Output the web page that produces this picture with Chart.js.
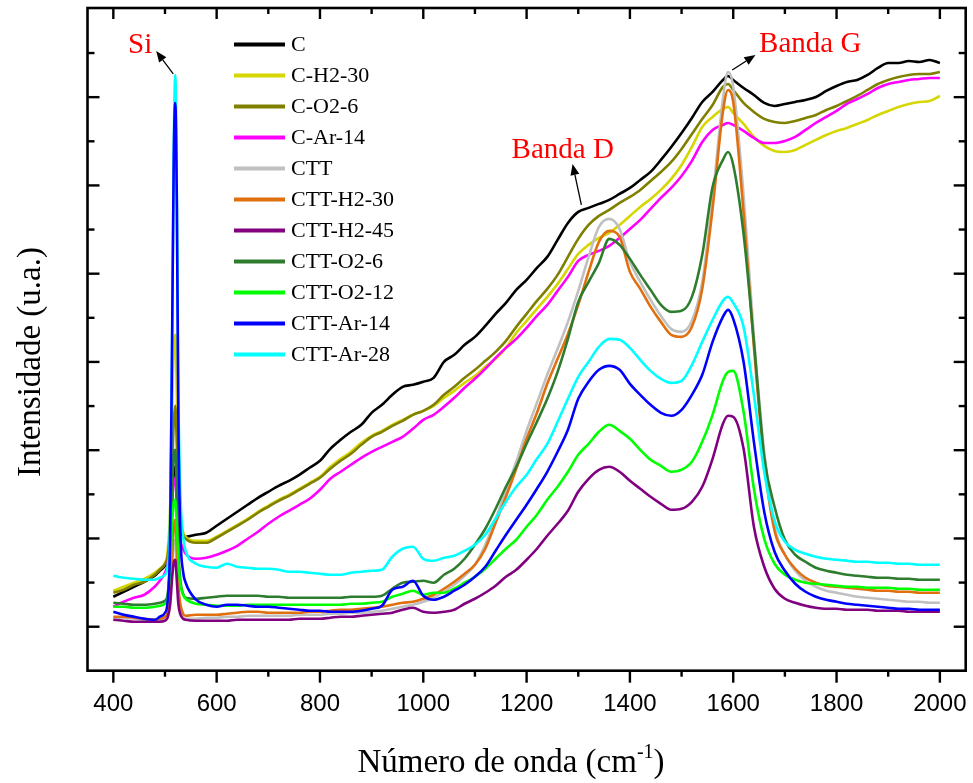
<!DOCTYPE html>
<html>
<head>
<meta charset="utf-8">
<title>Espectros Raman</title>
<script src="https://cdn.jsdelivr.net/npm/chart.js@4.4.1/dist/chart.umd.min.js"></script>
<style>
  html, body { margin: 0; padding: 0; background: #ffffff; }
  canvas { display: block; }
</style>
</head>
<body>
<canvas id="raman" width="973" height="783"></canvas>
<script>
// Wavenumber grid (cm-1); denser around the Si line at 520 cm-1
const wavenumbers = [
  400, 420, 440, 460, 480, 490, 500, 505, 510, 514, 517, 520, 523, 526, 530, 535,
  540, 560, 580, 600, 620, 640, 660, 680, 700, 720,
  740, 760, 780, 800, 820, 840, 860, 880, 900, 920,
  940, 960, 980, 1000, 1020, 1040, 1060, 1080, 1100, 1120,
  1140, 1160, 1180, 1200, 1220, 1240, 1260, 1280, 1300, 1320,
  1340, 1360, 1380, 1400, 1420, 1440, 1460, 1480, 1500, 1520,
  1540, 1560, 1580, 1590, 1600, 1620, 1640, 1660, 1680, 1700,
  1720, 1740, 1760, 1780, 1800, 1820, 1840, 1860, 1880, 1900,
  1920, 1940, 1960, 1980, 2000
];

// Intensities (arbitrary units), one array per sample
const sC = [
  30, 35, 40, 45, 51, 56, 61, 68, 90, 130, 158, 160, 128, 105, 94, 91,
  90, 92, 94, 101, 108, 115, 122, 129, 135, 141,
  146, 152, 159, 166, 178, 187, 195, 202, 214, 222,
  232, 240, 242, 245, 249, 265, 272, 282, 290, 301,
  313, 324, 337, 347, 359, 370, 387, 404, 415, 419,
  423, 427, 433, 439, 447, 455, 467, 480, 494, 509,
  525, 535, 547, 551, 547, 539, 532, 524, 521, 523,
  525, 527, 530, 536, 541, 545, 547, 552, 559, 564,
  564, 566, 565, 567, 564
];
const sCH2_30 = [
  36, 40, 44, 48, 54, 58, 64, 75, 120, 220, 280, 292, 230, 150, 110, 95,
  90, 86, 86, 90, 96, 102, 108, 115, 121, 127,
  132, 138, 144, 150, 160, 168, 175, 184, 191, 196,
  202, 207, 212, 216, 221, 229, 236, 244, 251, 260,
  268, 279, 294, 306, 318, 330, 343, 358, 373, 382,
  389, 394, 402, 411, 420, 428, 437, 448, 462, 480,
  500, 510, 518, 520, 514, 503, 490, 481, 476, 475,
  477, 482, 487, 492, 496, 499, 503, 507, 512, 516,
  520, 523, 525, 526, 531
];
const sCO2_6 = [
  34, 37, 42, 45, 52, 57, 63, 70, 100, 160, 205, 221, 180, 130, 105, 92,
  88, 84, 84, 89, 95, 101, 107, 114, 120, 126,
  131, 137, 143, 149, 158, 166, 173, 182, 190, 195,
  201, 206, 212, 216, 222, 232, 240, 249, 257, 266,
  275, 286, 300, 313, 326, 338, 352, 370, 388, 402,
  411, 417, 424, 430, 437, 446, 455, 465, 478, 493,
  508, 522, 540, 543, 537, 524, 515, 508, 505, 504,
  506, 509, 512, 517, 521, 526, 531, 537, 543, 547,
  550, 552, 553, 553, 555
];
const sCAr_14 = [
  20, 25, 29, 32, 40, 46, 54, 62, 85, 125, 145, 148, 125, 100, 85, 78,
  73, 68, 69, 72, 76, 81, 88, 95, 103, 110,
  116, 122, 128, 137, 148, 155, 162, 169, 175, 180,
  185, 190, 198, 207, 212, 220, 229, 239, 248, 258,
  269, 279, 288, 299, 311, 322, 336, 350, 366, 372,
  376, 381, 389, 398, 407, 418, 429, 439, 451, 466,
  485, 497, 502, 504, 502, 496, 489, 484, 484, 486,
  490, 497, 504, 510, 516, 523, 528, 533, 539, 543,
  545, 547, 548, 549, 549
];
const sCTT = [
  9, 9, 8, 7, 6, 7, 9, 13, 30, 60, 82, 87, 60, 35, 18, 10,
  8, 8, 9, 9, 10, 10, 11, 11, 11, 11,
  11, 12, 12, 12, 13, 13, 14, 14, 15, 16,
  18, 20, 22, 25, 29, 35, 42, 51, 62, 82,
  108, 136, 165, 196, 224, 252, 278, 305, 336, 370,
  400, 408, 398, 365, 345, 327, 311, 298, 295, 306,
  345, 428, 528, 555, 540, 432, 290, 175, 100, 72,
  56, 46, 40, 36, 34, 32, 30, 29, 28, 27,
  26, 25, 25, 24, 24
];
const sCTTH2_30 = [
  10, 10, 9, 8, 7, 8, 10, 14, 30, 70, 100, 107, 75, 40, 22, 13,
  11, 12, 12, 12, 13, 14, 15, 15, 14, 14,
  14, 14, 15, 15, 16, 17, 17, 18, 19, 20,
  22, 24, 25, 28, 32, 38, 45, 53, 62, 78,
  104, 130, 158, 188, 214, 243, 268, 293, 322, 355,
  385, 396, 390, 355, 338, 320, 305, 292, 290, 300,
  338, 418, 515, 537, 525, 414, 280, 164, 96, 72,
  58, 49, 44, 41, 40, 39, 38, 37, 36, 36,
  35, 35, 34, 34, 34
];
const sCTTH2_45 = [
  7, 6, 5, 5, 5, 5, 6, 9, 22, 50, 64, 67, 45, 22, 12, 8,
  7, 6, 6, 6, 6, 7, 7, 7, 7, 7,
  7, 8, 8, 8, 9, 10, 10, 11, 12, 13,
  14, 17, 19, 15, 14, 15, 17, 23, 28, 34,
  41, 50, 57, 67, 78, 91, 103, 116, 135, 148,
  157, 160, 155, 146, 138, 130, 123, 117, 118, 125,
  140, 168, 203, 211, 210, 178, 100, 60, 38, 28,
  24, 21, 19, 18, 18, 17, 17, 17, 16, 16,
  16, 15, 15, 15, 15
];
const sCTTO2_6 = [
  24, 23, 22, 22, 23, 24, 26, 32, 70, 140, 172, 177, 130, 75, 45, 33,
  29, 28, 29, 30, 31, 31, 31, 31, 30, 30,
  29, 29, 29, 29, 29, 29, 30, 30, 30, 31,
  38, 44, 45, 46, 44, 52, 58, 68, 82, 98,
  118, 140, 160, 183, 205, 228, 255, 288, 325, 345,
  364, 388, 382, 368, 352, 337, 322, 315, 316, 330,
  372, 440, 467, 475, 462, 393, 285, 170, 120, 87,
  72, 65, 59, 56, 54, 52, 51, 50, 49, 49,
  48, 48, 47, 47, 47
];
const sCTTO2_12 = [
  20, 20, 19, 19, 20, 21, 23, 28, 60, 105, 124, 127, 100, 65, 42, 32,
  28, 23, 22, 21, 21, 21, 22, 22, 22, 22,
  22, 22, 22, 22, 22, 22, 23, 23, 24, 25,
  30, 33, 36, 32, 34, 34, 38, 44, 50, 58,
  68, 78, 87, 100, 112, 127, 140, 155, 172, 183,
  195, 202, 196, 188, 177, 167, 161, 155, 157, 165,
  185, 212, 246, 255, 256, 215, 138, 88, 63, 52,
  47, 44, 43, 42, 41, 40, 40, 39, 39, 39,
  38, 38, 37, 37, 37
];
const sCTTAr_14 = [
  15, 12, 10, 8, 7, 10, 14, 25, 90, 300, 470, 524, 420, 200, 90, 55,
  44, 27, 22, 20, 22, 22, 21, 20, 20, 19,
  18, 17, 16, 16, 15, 15, 15, 16, 18, 21,
  37, 40, 46, 31, 27, 30, 36, 42, 50, 60,
  76, 92, 107, 122, 138, 155, 175, 197, 228, 245,
  257, 261, 257, 243, 232, 222, 214, 211, 217, 232,
  252, 285, 310, 317, 308, 265, 185, 115, 75, 56,
  43, 35, 30, 27, 25, 23, 22, 21, 20, 19,
  18, 18, 17, 17, 17
];
const sCTTAr_28 = [
  51, 49, 48, 47, 47, 49, 52, 60, 110, 300, 480, 552, 430, 230, 130, 90,
  76, 63, 60, 59, 63, 60, 59, 58, 58, 57,
  55, 55, 54, 53, 52, 52, 54, 55, 56, 57,
  70, 78, 80, 68, 66, 69, 71, 76, 82, 92,
  108, 125, 140, 152, 168, 183, 205, 228, 250, 265,
  280, 288, 287, 279, 267, 256, 248, 244, 246, 262,
  285, 307, 326, 330, 324, 300, 232, 155, 106, 85,
  77, 73, 70, 68, 67, 66, 65, 65, 64, 64,
  63, 63, 62, 62, 62
];

const seriesNames = ['C', 'C-H2-30', 'C-O2-6', 'C-Ar-14', 'CTT', 'CTT-H2-30',
                     'CTT-H2-45', 'CTT-O2-6', 'CTT-O2-12', 'CTT-Ar-14', 'CTT-Ar-28'];
const seriesValues = [sC, sCH2_30, sCO2_6, sCAr_14, sCTT, sCTTH2_30,
                      sCTTH2_45, sCTTO2_6, sCTTO2_12, sCTTAr_14, sCTTAr_28];
const seriesColors = ['#000000', '#d6d600', '#808000', '#ff00ff', '#c0c0c0', '#e0700f',
                      '#800080', '#2e7d2e', '#00ff00', '#0000ff', '#00ffff'];

// Axis ticks
const xMajorTicks = [400, 600, 800, 1000, 1200, 1400, 1600, 1800, 2000];
const xMinorTicks = [500, 700, 900, 1100, 1300, 1500, 1700, 1900];
const yTickStep = 44.15;   // intensity units between neighbouring left/right ticks
const yTickCount = 13;

// Band labels with their arrows, in data coordinates
const bandNotes = [
  { text: 'Si',      x: 452,  y: 574, ax0: 516,  ay0: 553, ax1: 483,  ay1: 576 },
  { text: 'Banda D', x: 1270, y: 469, ax0: 1306, ay0: 422, ax1: 1289, ay1: 463 },
  { text: 'Banda G', x: 1749, y: 575, ax0: 1598, ay0: 557, ax1: 1643, ay1: 572 }
];

const serif = "'Liberation Serif', 'Times New Roman', serif";
const sans = "'Liberation Sans', Arial, sans-serif";

const datasets = seriesNames.map((name, i) => ({
  label: name,
  data: wavenumbers.map((w, j) => ({ x: w, y: seriesValues[i][j] })),
  borderColor: seriesColors[i],
  backgroundColor: seriesColors[i],
  borderWidth: 2.6,
  pointRadius: 0,
  fill: false,
  cubicInterpolationMode: 'monotone',
  order: i === 9 ? 0 : seriesNames.length - i
}));

function seg(ctx, x0, y0, x1, y1) {
  ctx.beginPath();
  ctx.moveTo(x0, y0);
  ctx.lineTo(x1, y1);
  ctx.stroke();
}

function arrow(ctx, x0, y0, x1, y1) {
  const ang = Math.atan2(y1 - y0, x1 - x0);
  const head = 11, half = 4.5;
  const bx = x1 - head * Math.cos(ang), by = y1 - head * Math.sin(ang);
  ctx.lineWidth = 1.3;
  seg(ctx, x0, y0, bx, by);
  ctx.beginPath();
  ctx.moveTo(x1, y1);
  ctx.lineTo(bx + half * Math.sin(ang), by - half * Math.cos(ang));
  ctx.lineTo(bx - half * Math.sin(ang), by + half * Math.cos(ang));
  ctx.closePath();
  ctx.fill();
}

const decorations = {
  id: 'decorations',
  beforeDraw(chart) {
    const ctx = chart.ctx;
    ctx.save();
    ctx.fillStyle = '#ffffff';
    ctx.fillRect(0, 0, chart.width, chart.height);
    ctx.restore();
  },
  afterDatasetsDraw(chart) {
    const { ctx, chartArea: a } = chart;
    const xs = chart.scales.x, ys = chart.scales.y;
    ctx.save();
    ctx.strokeStyle = '#000';
    ctx.fillStyle = '#000';
    ctx.lineCap = 'butt';

    // frame
    ctx.lineWidth = 2.6;
    ctx.strokeRect(a.left, a.top, a.right - a.left, a.bottom - a.top);

    // x ticks: outward at the bottom, inward at the top
    ctx.lineWidth = 2.4;
    xMajorTicks.forEach(v => {
      const px = xs.getPixelForValue(v);
      seg(ctx, px, a.bottom, px, a.bottom + 12);
      seg(ctx, px, a.top, px, a.top + 11);
    });
    xMinorTicks.forEach(v => {
      const px = xs.getPixelForValue(v);
      seg(ctx, px, a.bottom, px, a.bottom + 6);
      seg(ctx, px, a.top, px, a.top + 6);
    });

    // y ticks: inward on both sides, no labels
    for (let k = 0; k <= yTickCount; k++) {
      const py = ys.getPixelForValue(k * yTickStep);
      const len = k % 2 === 0 ? 12 : 7;
      seg(ctx, a.left, py, a.left + len, py);
      seg(ctx, a.right, py, a.right - len, py);
    }

    // x tick labels
    ctx.font = '24px ' + sans;
    ctx.textAlign = 'center';
    ctx.textBaseline = 'alphabetic';
    xMajorTicks.forEach(v => ctx.fillText(String(v), xs.getPixelForValue(v), a.bottom + 40));

    // x axis title with superscript
    const mainTxt = 'Número de onda (cm';
    ctx.font = '33px ' + serif;
    const wMain = ctx.measureText(mainTxt).width;
    ctx.font = '20px ' + serif;
    const wSup = ctx.measureText('-1').width;
    ctx.font = '33px ' + serif;
    const wClose = ctx.measureText(')').width;
    let tx = 511 - (wMain + wSup + wClose) / 2;
    ctx.textAlign = 'left';
    ctx.fillText(mainTxt, tx, 772);
    tx += wMain;
    ctx.font = '20px ' + serif;
    ctx.fillText('-1', tx, 758);
    tx += wSup;
    ctx.font = '33px ' + serif;
    ctx.fillText(')', tx, 772);

    // y axis title
    ctx.save();
    ctx.translate(40, 362);
    ctx.rotate(-Math.PI / 2);
    ctx.textAlign = 'center';
    ctx.fillText('Intensidade (u.a.)', 0, 0);
    ctx.restore();

    // legend
    ctx.font = '22px ' + serif;
    ctx.textAlign = 'left';
    ctx.textBaseline = 'middle';
    seriesNames.forEach((name, i) => {
      const yy = 44.5 + i * 31;
      ctx.strokeStyle = seriesColors[i];
      ctx.lineWidth = 4;
      seg(ctx, 234, yy, 285, yy);
      ctx.fillStyle = '#000';
      ctx.fillText(name, 291, yy + 1);
    });

    // band labels and arrows
    bandNotes.forEach(n => {
      ctx.fillStyle = '#ff0000';
      ctx.font = '29px ' + serif;
      ctx.textAlign = 'center';
      ctx.textBaseline = 'alphabetic';
      ctx.fillText(n.text, xs.getPixelForValue(n.x), ys.getPixelForValue(n.y));
      ctx.fillStyle = '#000';
      ctx.strokeStyle = '#000';
      arrow(ctx, xs.getPixelForValue(n.ax0), ys.getPixelForValue(n.ay0),
                 xs.getPixelForValue(n.ax1), ys.getPixelForValue(n.ay1));
    });

    ctx.restore();
  }
};

new Chart(document.getElementById('raman'), {
  type: 'line',
  data: { datasets },
  options: {
    responsive: false,
    animation: false,
    devicePixelRatio: 1,
    layout: { padding: { left: 87.5, right: 7.3, top: 8, bottom: 112.3 } },
    plugins: { legend: { display: false }, tooltip: { enabled: false } },
    scales: {
      x: { type: 'linear', min: 350, max: 2050, display: false },
      y: { type: 'linear', min: -44, max: 619, display: false }
    }
  },
  plugins: [decorations]
});
</script>
</body>
</html>
